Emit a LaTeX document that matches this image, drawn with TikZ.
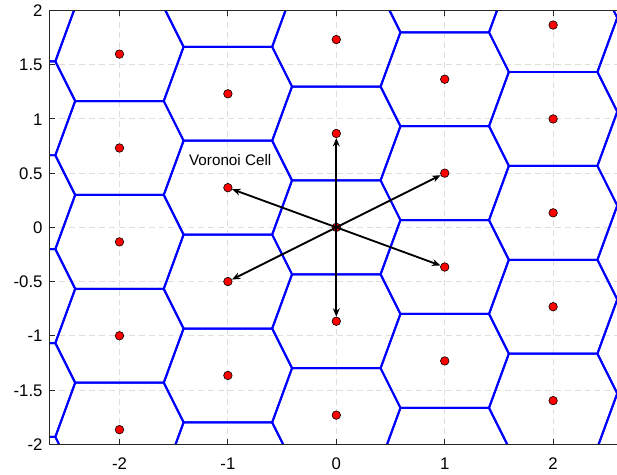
\documentclass[tikz,border=0pt]{standalone}
\usepackage{fontspec}
\setmainfont{Liberation Sans}
\usetikzlibrary{arrows.meta}

\begin{document}
\begin{tikzpicture}[
  x=2.5cm,y=2.5cm,
  cellline/.style={blue,line width=1.3pt,line join=round},
  gridline/.style={black!13,line width=0.6pt,dash pattern=on 3.9pt off 2.6pt},
  axisline/.style={black!85,line width=0.6pt},
  site/.style={circle,draw=black,fill=red,line width=0.4pt,inner sep=0pt,minimum size=5.6pt},
  arrow/.style={-{Stealth[length=5.5pt,width=4.5pt]},line width=1.2pt},
  ticklabel/.style={font=\fontsize{11}{13}\selectfont,inner sep=0pt}
]
\useasboundingbox (-3.102,-2.275) rectangle (2.589,2.097);
% grid
\foreach \gx in {-2,...,2}
  \draw[gridline] (\gx,-2) -- (\gx,2);
\foreach \gy in {-2,-1.5,-1,-0.5,0,0.5,1,1.5,2}
  \draw[gridline] (-2.645,\gy) -- (2.645,\gy);
% voronoi cells
\begin{scope}
\clip (-2.645,-2) rectangle (2.645,2);
\foreach \i in {-4,...,4}
  \foreach \j in {-8,...,8} {
    \pgfmathsetmacro{\cy}{0.5*(\i)+0.8660254*(\j)}
    \draw[cellline,shift={(\i,\cy)}]
      (0.40849,0.43301) -- (-0.40849,0.43301) -- (-0.59151,-0.06699)
      -- (-0.40849,-0.43301) -- (0.40849,-0.43301) -- (0.59151,0.06699) -- cycle;
  }
\end{scope}
% lattice points
\foreach \i in {-2,...,2}
  \foreach \j in {-6,...,6} {
    \pgfmathsetmacro{\yy}{0.5*(\i)+0.8660254*(\j)}
    \pgfmathtruncatemacro{\inside}{abs(\yy)<2}
    \ifnum\inside=1 \node[site] (s\i_\j) at (\i,\yy) {}; \fi
  }
\foreach \t in {0_1,1_0,1_-1,-1_1,-1_0,0_-1}
  \draw[arrow] (s0_0.center) -- (s\t);
\node[anchor=west,font=\fontsize{10}{12}\selectfont,inner sep=0pt] (celllabel) at (-1.36,0.62) {Voronoi Cell};
% axes
\draw[axisline] (2.645,2) -- (-2.645,2) -- (-2.645,-2) -- (2.645,-2);
\foreach \gx in {-2,...,2} {
  \draw[axisline] (\gx,-2) -- ++(0,0.046);
  \draw[axisline] (\gx,2) -- ++(0,-0.046);
  \node[ticklabel,anchor=base] (xl\gx) at (\gx,-2.23) {\gx};
}
\foreach \gy in {-2,-1.5,-1,-0.5,0,0.5,1,1.5,2} {
  \draw[axisline] (-2.645,\gy) -- ++(0.05,0);
  \node[ticklabel,anchor=base east] (yl\gy) at (-2.707,\gy-0.056) {\gy};
}
\end{tikzpicture}
\end{document}
